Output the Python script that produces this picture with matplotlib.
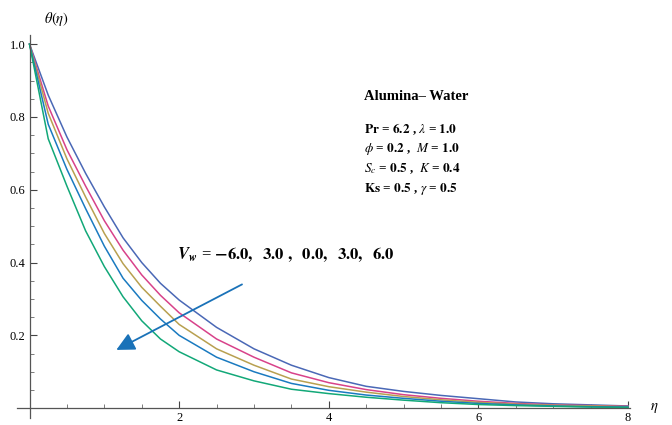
import numpy as np
import matplotlib.pyplot as plt
from matplotlib.ticker import MultipleLocator

plt.rcParams['font.family'] = ['Liberation Serif', 'DejaVu Serif']
plt.rcParams['mathtext.fontset'] = 'stix'

# eta grid and theta(eta) curves (top curve first)
eta = [0, 0.25, 0.5, 0.75, 1.0, 1.25, 1.5, 1.75, 2.0, 2.5, 3.0, 3.5,
       4.0, 4.5, 5.0, 5.5, 6.0, 6.5, 7.0, 7.5, 8.0]
theta_1 = [1.0, 0.86, 0.745, 0.645, 0.553, 0.468, 0.40, 0.343, 0.297, 0.222, 0.163, 0.118,
           0.084, 0.060, 0.046, 0.035, 0.026, 0.017, 0.012, 0.009, 0.006]
theta_2 = [1.0, 0.83, 0.71, 0.61, 0.515, 0.434, 0.366, 0.31, 0.262, 0.19, 0.14, 0.097,
           0.070, 0.051, 0.037, 0.027, 0.019, 0.013, 0.009, 0.007, 0.005]
theta_3 = [1.0, 0.81, 0.685, 0.58, 0.48, 0.397, 0.332, 0.28, 0.23, 0.163, 0.118, 0.080,
           0.059, 0.044, 0.032, 0.023, 0.016, 0.011, 0.008, 0.006, 0.004]
theta_4 = [1.0, 0.78, 0.656, 0.548, 0.445, 0.357, 0.296, 0.245, 0.20, 0.14, 0.10, 0.068,
           0.049, 0.036, 0.027, 0.019, 0.013, 0.009, 0.006, 0.004, 0.003]
theta_5 = [1.0, 0.74, 0.61, 0.487, 0.389, 0.306, 0.24, 0.19, 0.155, 0.105, 0.075, 0.052,
           0.040, 0.030, 0.022, 0.015, 0.010, 0.007, 0.005, 0.003, 0.002]
colors = ['#4a68b6', '#d8428a', '#b8a050', '#1a7ac0', '#12a878']

fig = plt.figure(figsize=(6.72, 4.25), dpi=100)
ax = fig.add_axes([0.025, 0.0165, 0.913, 0.901])

for th, c in zip([theta_1, theta_2, theta_3, theta_4, theta_5], colors):
    ax.plot(eta, th, color=c, lw=1.1)

ax.set_xlim(-0.17, 8.03)
ax.set_ylim(-0.027, 1.025)

ax.spines['left'].set_position(('data', 0))
ax.spines['bottom'].set_position(('data', 0))
ax.spines['right'].set_visible(False)
ax.spines['top'].set_visible(False)
for s in ['left', 'bottom']:
    ax.spines[s].set_color('#555555')
    ax.spines[s].set_linewidth(0.9)

ax.xaxis.set_minor_locator(MultipleLocator(0.5))
ax.yaxis.set_minor_locator(MultipleLocator(0.05))
ax.set_xticks([2, 4, 6, 8])
ax.set_yticks([0.2, 0.4, 0.6, 0.8, 1.0])
ax.set_yticklabels(['0.2', '0.4', '0.6', '0.8', '1.0'])
ax.tick_params(which='major', direction='in', length=5, width=0.8, color='#444444',
               labelsize=9, pad=3)
ax.tick_params(which='minor', direction='in', length=3, width=0.6, color='#666666')

ax.text(0.36, 1.07, r'$\theta(\eta)$', fontsize=10.5, ha='center', va='center', clip_on=False)
ax.text(8.35, 0.0, r'$\eta$', fontsize=10.5, ha='center', va='center', clip_on=False)

ax.annotate('', xy=(1.16, 0.16), xytext=(2.84, 0.34),
            arrowprops=dict(arrowstyle='-|>,head_length=1.1,head_width=0.55',
                            color='#1a72b8', lw=1.3, shrinkA=0, shrinkB=0))

ax.text(1.97, 0.423, r'$\mathbfit{V_w}$ = $\mathbf{-6.0,\ \ 3.0\ ,\ \ 0.0,\ \ 3.0,\ \ 6.0}$',
        fontsize=12, va='center', ha='left')

ax.text(4.47, 0.857, 'Alumina\u2013 Water', fontsize=10.5, fontweight='bold', va='center')
params = [r'$\mathbf{Pr}$ = $\mathbf{6.2}$ , $\lambda$ = $\mathbf{1.0}$',
          r'$\phi$ = $\mathbf{0.2}$ ,  $M$ = $\mathbf{1.0}$',
          r'$S_c$ = $\mathbf{0.5}$ ,  $K$ = $\mathbf{0.4}$',
          r'$\mathbf{Ks}$ = $\mathbf{0.5}$ , $\gamma$ = $\mathbf{0.5}$']
for i, p in enumerate(params):
    ax.text(4.47, 0.766 - i * 0.0545, p, fontsize=9.5, fontweight='bold', va='center')

fig.savefig('out.png', dpi=100)
